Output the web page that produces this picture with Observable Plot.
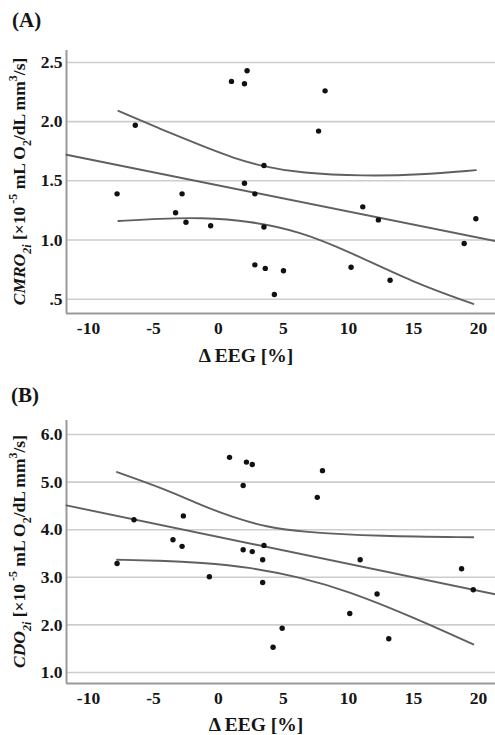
<!DOCTYPE html>
<html>
<head>
<meta charset="utf-8">
<script src="https://cdn.jsdelivr.net/npm/d3@7"></script>
<script src="https://cdn.jsdelivr.net/npm/@observablehq/plot@0.6"></script>
<style>
  body { margin: 0; background: #fff; }
  #wrap { position: relative; width: 495px; height: 735px; overflow: hidden;
          font-family: "Liberation Serif", "Times New Roman", serif; color: #151515; }
  .title { position: absolute; font-weight: bold; font-size: 21px; line-height: 1; }
  .xlab { position: absolute; font-weight: bold; font-size: 19.5px; line-height: 1;
          transform: translateX(-50%); white-space: nowrap; }
  .panel { position: absolute; left: 0; }
  #wrap svg text { font-weight: 700; font-family: "Liberation Serif", "Times New Roman", serif; }
</style>
</head>
<body>
<div id="wrap"></div>
<script>
// ---- shared axis ticks ----
const xTicks = [-10, -5, 0, 5, 10, 15, 20];
const xDomain = [-11.69, 21.31];

// ---- Panel A: CMRO2i vs ΔEEG ----
const cmroX = [-7.8, -6.4, -3.3, -2.8, -2.5, -0.6, 1.0, 2.0, 2.2, 2.0, 2.8, 3.5, 3.5, 2.8, 3.6, 5.0, 4.3, 7.7, 8.2, 10.2, 11.1, 12.3, 13.2, 18.9, 19.8];
const cmroY = [1.39, 1.97, 1.23, 1.39, 1.15, 1.12, 2.34, 2.32, 2.43, 1.48, 1.39, 1.63, 1.11, 0.79, 0.76, 0.74, 0.54, 1.92, 2.26, 0.77, 1.28, 1.17, 0.66, 0.97, 1.18];
const cmroTicks = [0.5, 1.0, 1.5, 2.0, 2.5];
const cmroDomain = [0.379, 2.601];
const cmroFitX = [-11.69, 21.31];
const cmroFitY = [1.72, 0.99];
const cmroUpX = [-7.7, -4.5, -1.4, 1.2, 3.5, 6.3, 11.2, 15.5, 19.8];
const cmroUpY = [2.09, 1.94, 1.80, 1.69, 1.62, 1.565, 1.54, 1.55, 1.59];
const cmroLoX = [-7.7, -4.5, -1.4, 2.5, 6.3, 9.9, 15.0, 19.6];
const cmroLoY = [1.16, 1.18, 1.19, 1.16, 1.07, 0.91, 0.64, 0.46];

// ---- Panel B: CDO2i vs ΔEEG ----
const cdoX = [-7.8, -6.5, -3.5, -2.8, -2.7, -0.7, 0.85, 1.9, 2.15, 2.6, 1.9, 2.6, 3.5, 3.4, 3.4, 4.2, 4.9, 7.6, 8.0, 10.1, 10.9, 12.2, 13.1, 18.7, 19.6];
const cdoY = [3.29, 4.21, 3.79, 3.65, 4.29, 3.01, 5.52, 4.93, 5.42, 5.37, 3.58, 3.54, 3.67, 3.37, 2.89, 1.53, 1.93, 4.68, 5.24, 2.24, 3.37, 2.65, 1.71, 3.18, 2.74];
const cdoTicks = [1.0, 2.0, 3.0, 4.0, 5.0, 6.0];
const cdoDomain = [0.769, 6.294];
const cdoFitX = [-11.69, 21.31];
const cdoFitY = [4.51, 2.64];
const cdoUpX = [-7.8, -3.9, -1.4, 1.2, 3.7, 6.3, 12.5, 19.6];
const cdoUpY = [5.21, 4.83, 4.52, 4.25, 4.06, 3.95, 3.86, 3.84];
const cdoLoX = [-7.8, -4.5, -1.4, 2.5, 6.3, 9.9, 15.0, 19.6];
const cdoLoY = [3.37, 3.35, 3.31, 3.21, 3.00, 2.72, 2.16, 1.59];

const fmtY = d => { const s = d.toFixed(1); return s.startsWith("0.") ? s.slice(1) : s; };
const fmtX = d => String(d);
const pts = (xs, ys) => xs.map((x, i) => ({x, y: ys[i]}));

function panel(cfg) {
  const lineStyle = {x: "x", y: "y", stroke: "#606060", strokeWidth: 1.9};
  const svg = Plot.plot({
    width: 495,
    height: cfg.height,
    marginLeft: 66,
    marginRight: 0,
    marginTop: cfg.marginTop,
    marginBottom: cfg.marginBottom,
    style: {fontFamily: "Liberation Serif, Times New Roman, serif", fontSize: "17.5px", fontWeight: "bold", color: "#151515", background: "#fff"},
    x: {domain: xDomain, ticks: xTicks, tickSize: 0, tickPadding: 8, tickFormat: fmtX, label: null},
    y: {domain: cfg.domain, ticks: cfg.ticks, tickSize: 0, tickPadding: 4, tickFormat: fmtY, label: null},
    marks: [
      Plot.ruleY(cfg.ticks, {stroke: "#cdcdcd", strokeWidth: 1.6}),
      Plot.ruleX([xDomain[0]], {stroke: "#9a9a9a", strokeWidth: 2}),
      Plot.ruleY([cfg.domain[0]], {stroke: "#9a9a9a", strokeWidth: 2}),
      Plot.line(pts(cfg.fitX, cfg.fitY), lineStyle),
      Plot.line(pts(cfg.upX, cfg.upY), {...lineStyle, curve: "basis"}),
      Plot.line(pts(cfg.loX, cfg.loY), {...lineStyle, curve: "basis"}),
      Plot.dot(pts(cfg.xs, cfg.ys), {x: "x", y: "y", r: 2.7, fill: "#111", stroke: "none"})
    ]
  });
  // rotated y-axis label with italic/sub/superscript parts
  const cy = (cfg.marginTop + cfg.height - cfg.marginBottom) / 2;
  const t = d3.select(svg).append("text")
    .attr("transform", `translate(21,${cy}) rotate(-90)`)
    .attr("text-anchor", "middle")
    .attr("dominant-baseline", "middle")
    .attr("font-size", 17.5)
    .attr("font-weight", "bold")
    .attr("fill", "#151515");
  const parts = [
    [cfg.ylab, "italic", null],
    ["2i", "italic", "sub"],
    [" [×10", null, null],
    [" -5", null, "super"],
    [" mL O", null, null],
    ["2", null, "sub"],
    ["/dL mm", null, null],
    ["3", null, "super"],
    ["/s]", null, null]
  ];
  for (const [txt, style, shift] of parts) {
    const sp = t.append("tspan").text(txt);
    if (style) sp.attr("font-style", style);
    if (shift) sp.attr("baseline-shift", shift).attr("font-size", 12);
  }
  return svg;
}

const wrap = document.getElementById("wrap");

function addDiv(cls, text, left, top) {
  const d = document.createElement("div");
  d.className = cls; d.textContent = text;
  d.style.left = left + "px"; d.style.top = top + "px";
  wrap.appendChild(d);
}

addDiv("title", "(A)", 12, 10);
const a = panel({height: 332, marginTop: 14, marginBottom: 55, domain: cmroDomain, ticks: cmroTicks,
  xs: cmroX, ys: cmroY, fitX: cmroFitX, fitY: cmroFitY, upX: cmroUpX, upY: cmroUpY, loX: cmroLoX, loY: cmroLoY, ylab: "CMRO"});
a.classList.add("panel"); a.style.top = "36px";
wrap.appendChild(a);
addDiv("xlab", "Δ EEG [%]", 246, 346);

addDiv("title", "(B)", 11, 385);
const b = panel({height: 325, marginTop: 10, marginBottom: 52, domain: cdoDomain, ticks: cdoTicks,
  xs: cdoX, ys: cdoY, fitX: cdoFitX, fitY: cdoFitY, upX: cdoUpX, upY: cdoUpY, loX: cdoLoX, loY: cdoLoY, ylab: "CDO"});
b.classList.add("panel"); b.style.top = "410px";
wrap.appendChild(b);
addDiv("xlab", "Δ EEG [%]", 256, 715);
</script>
</body>
</html>
